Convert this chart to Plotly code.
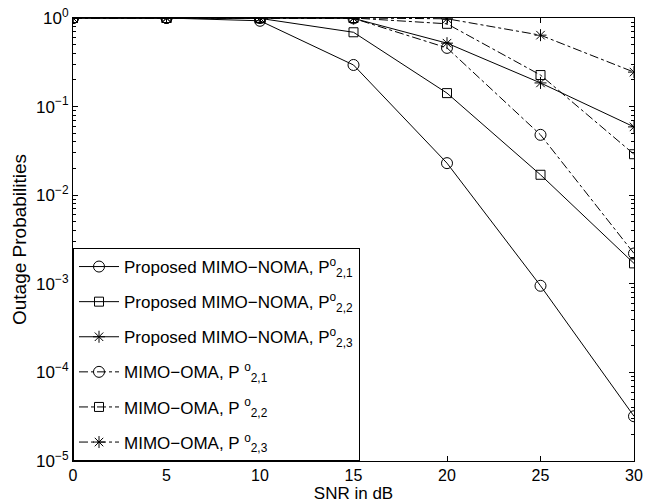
import plotly.graph_objects as go

snr = [0, 5, 10, 15, 20, 25, 30]

noma_p21 = [1.0, 1.0, 0.93, 0.295, 0.023, 9.5e-4, 3.2e-5]
noma_p22 = [1.0, 1.0, 0.99, 0.69, 0.142, 0.017, 1.7e-3]
noma_p23 = [1.0, 1.0, 1.0, 0.99, 0.52, 0.185, 0.059]
oma_p21 = [1.0, 1.0, 1.0, 0.99, 0.46, 0.048, 2.2e-3]
oma_p22 = [1.0, 1.0, 1.0, 1.0, 0.86, 0.227, 0.029]
oma_p23 = [1.0, 1.0, 1.0, 1.0, 0.98, 0.64, 0.245]

names = [
    "Proposed MIMO\u2212NOMA, P<sup>o</sup><sub>2,1</sub>",
    "Proposed MIMO\u2212NOMA, P<sup>o</sup><sub>2,2</sub>",
    "Proposed MIMO\u2212NOMA, P<sup>o</sup><sub>2,3</sub>",
    "MIMO\u2212OMA, P <sup>o</sup><sub>2,1</sub>",
    "MIMO\u2212OMA, P <sup>o</sup><sub>2,2</sub>",
    "MIMO\u2212OMA, P <sup>o</sup><sub>2,3</sub>",
]
series = [noma_p21, noma_p22, noma_p23, oma_p21, oma_p22, oma_p23]
symbols = ["circle-open", "square-open", "asterisk-open"] * 2
sizes = [11, 9, 10, 11, 9, 10]
dashes = ["solid"] * 3 + ["dashdot"] * 3

fig = go.Figure()
for i, (nm, ys, sym, sz, ds) in enumerate(zip(names, series, symbols, sizes, dashes)):
    fig.add_trace(go.Scatter(
        x=snr, y=ys, name=nm, mode="lines+markers", legendgroup=f"g{i}",
        line=dict(color="black", width=1, dash=ds),
        marker=dict(symbol=sym, size=sz, color="black", line=dict(width=1, color="black")),
    ))

dec_vals = [1e-5, 1e-4, 1e-3, 1e-2, 1e-1, 1]
dec_text = ["10<sup>\u22125</sup>", "10<sup>\u22124</sup>", "10<sup>\u22123</sup>",
            "10<sup>\u22122</sup>", "10<sup>\u22121</sup>", "10<sup>0</sup>"]
minor_vals = [m * d for d in dec_vals[:-1] for m in range(2, 10)]

fig.update_layout(
    width=655, height=504,
    margin=dict(l=73, r=21, t=18, b=43),
    paper_bgcolor="white", plot_bgcolor="white",
    font=dict(family="Liberation Sans, Arial, sans-serif", size=17, color="black"),
    showlegend=True,
    legend=dict(x=0, y=0, xanchor="left", yanchor="bottom",
                bordercolor="black", borderwidth=1, bgcolor="white",
                font=dict(size=17), tracegroupgap=10, itemwidth=40),
    xaxis=dict(
        range=[0, 30], tickvals=[0, 5, 10, 15, 20, 25, 30],
        ticks="inside", ticklen=5, tickcolor="black", showline=True, linecolor="black",
        linewidth=1, mirror="ticks", showgrid=False, zeroline=False, automargin=False,
        title=dict(text="SNR in dB", font=dict(size=17), standoff=2),
        tickfont=dict(size=16),
    ),
    yaxis=dict(
        type="log", range=[-5, 0], tickvals=dec_vals, ticktext=dec_text,
        ticks="inside", ticklen=5, tickcolor="black", showline=True, linecolor="black",
        linewidth=1, mirror="ticks", showgrid=False, zeroline=False, automargin=False,
        minor=dict(tickvals=minor_vals, ticks="inside", ticklen=3, tickcolor="black", showgrid=False),
        title=dict(text="Outage Probabilities", font=dict(size=19), standoff=4),
        tickfont=dict(size=17),
    ),
)

fig.write_html("out.html", config={"displayModeBar": False},
               post_script="document.body.style.margin='0';")
